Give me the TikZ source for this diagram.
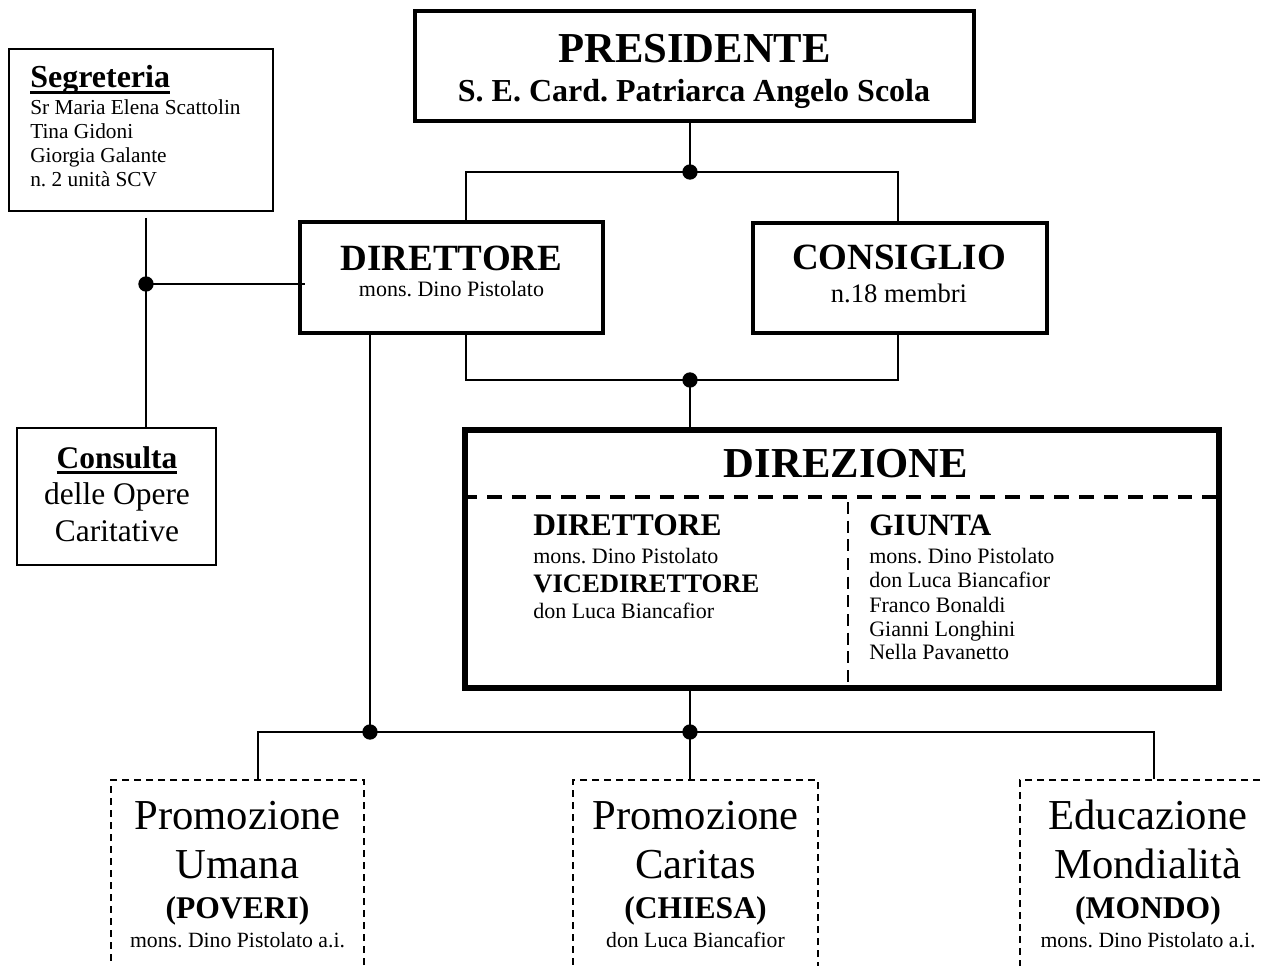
\documentclass[tikz,border=0pt]{standalone}
\usepackage{fontspec}
\setmainfont{Liberation Serif}
\frenchspacing
\newcommand\myul[1]{\setbox0\hbox{#1}\rlap{\rule[-4.2pt]{\wd0}{1.6pt}}\box0}
\newcommand\fs[2]{\fontsize{#1}{#2}\selectfont}
\begin{document}
\begin{tikzpicture}[x=0.75pt,y=-0.75pt,
  box/.style={draw, rectangle, inner sep=0pt},
  thinbox/.style={box, line width=1.5pt},
  thickbox/.style={box, line width=3pt},
  heavybox/.style={box, line width=3.8pt},
  dashbox/.style={box, line width=1.1pt, dash pattern=on 5.25pt off 3.75pt},
  conn/.style={line width=1.5pt},
  vconn/.style={line width=1.9pt},
  txt/.style={inner sep=0pt, anchor=base, font=\frenchspacing},
  txtl/.style={inner sep=0pt, anchor=base west, font=\frenchspacing},
  jdot/.style={circle, fill=black, draw=none, inner sep=0pt, minimum size=11.5pt},
  hdash/.style={line width=3pt, dash pattern=on 11pt off 7.5pt},
  vdash/.style={line width=2pt, dash pattern=on 9pt off 5pt}]
\clip (0,0) rectangle (1261,966);
\fill[white] (0,0) rectangle (1261,966);

% boxes
\node[thinbox, minimum width=198pt, minimum height=121.5pt] (seg) at (141,130) {};
\node[thinbox, minimum width=149.25pt, minimum height=102.75pt] (cons) at (116.5,496.5) {};
\node[thickbox, minimum width=419.25pt, minimum height=82.5pt] (pres) at (694.5,66) {};
\node[thickbox, minimum width=227.25pt, minimum height=83.25pt] (dir) at (451.5,277.5) {};
\node[thickbox, minimum width=220.5pt, minimum height=82.5pt] (consig) at (900,278) {};
\node[heavybox, minimum width=565.5pt, minimum height=193.5pt] (direz) at (842,559) {};
\node[dashbox, minimum width=189.75pt, minimum height=165pt] (b1) at (237.5,890) {};
\node[dashbox, minimum width=183.75pt, minimum height=165pt] (b2) at (695.5,890) {};
\node[dashbox, minimum width=192pt, minimum height=165pt] (b3) at (1148,890) {};

% inner dashed dividers of DIREZIONE
\draw[hdash] (direz.west |- 0,497) -- (direz.east |- 0,497);
\draw[vdash] (848,502) -- (848,682);

% junction coordinates and dots
\coordinate (j1) at (466,172);
\coordinate (j2) at (898,172);
\coordinate (j3) at (466,380);
\coordinate (j4) at (898,380);
\coordinate (sTop) at (146,218);
\coordinate (h1) at (258,732);
\coordinate (h2) at (1154,732);
\node[jdot] (d1) at (690,172) {};
\node[jdot] (d2) at (690,380) {};
\node[jdot] (d3) at (146,284) {};
\node[jdot] (d4) at (370,732) {};
\node[jdot] (d5) at (690,732) {};

% connectors
\draw[vconn] (pres.south -| d1) -- (d1.center);
\draw[conn] (dir.north -| j1) -- (j1) -- (j2) -- (consig.north -| j2);
\draw[conn] (dir.south -| j3) -- (j3) -- (j4) -- (consig.south -| j4);
\draw[vconn] (d2.center) -- (direz.north -| d2);
\draw[conn] (sTop) -- (cons.north -| sTop);
\draw[conn] (d3.center) -- ([xshift=5pt]dir.west |- d3);
\draw[conn] (dir.south -| d4) -- (d4.center);
\draw[vconn] (direz.south -| d5) -- (d5.center) -- (b2.north -| d5);
\draw[conn] (b1.north -| h1) -- (h1) -- (h2) -- (b3.north -| h2);

% Segreteria
\node[txtl] (t1) at (30,88) {\fs{24pt}{28pt}\bfseries\myul{Segreteria}};
\node[txtl] (t2) at (30,115) {\fs{16pt}{18pt}Sr Maria Elena Scattolin};
\node[txtl] (t3) at (30,139) {\fs{16pt}{18pt}Tina Gidoni};
\node[txtl] (t4) at (30,163) {\fs{16pt}{18pt}Giorgia Galante};
\node[txtl] (t5) at (30,187) {\fs{16pt}{18pt}n. 2 unità SCV};

% Consulta
\node[txt] (t6) at (117,468) {\fs{23.6pt}{28pt}\bfseries\myul{Consulta}};
\node[txt] (t7) at (117,504) {\fs{23.6pt}{28pt}delle Opere};
\node[txt] (t8) at (117,541) {\fs{23.6pt}{28pt}Caritative};

% Presidente
\node[txt] (t9) at (694.5,63) {\fs{32pt}{36pt}\bfseries PRESIDENTE};
\node[txt] (t10) at (694,102) {\fs{24pt}{28pt}\bfseries S. E. Card. Patriarca Angelo Scola};

% Direttore
\node[txt] (t11) at (451.5,271) {\fs{27.75pt}{32pt}\bfseries DIRETTORE};
\node[txt] (t12) at (451.5,297) {\fs{16.5pt}{18pt}mons. Dino Pistolato};

% Consiglio
\node[txt] (t13) at (899,270) {\fs{27.75pt}{32pt}\bfseries CONSIGLIO};
\node[txt] (t14) at (899,303) {\fs{20pt}{24pt}n.18 membri};

% Direzione
\node[txt] (t15) at (846,477) {\fs{32pt}{36pt}\bfseries DIREZIONE};
\node[txtl] (t16) at (533,535) {\fs{23.6pt}{28pt}\bfseries DIRETTORE};
\node[txtl] (t17) at (533,563) {\fs{16.5pt}{18pt}mons. Dino Pistolato};
\node[txtl] (t18) at (533,592) {\fs{20pt}{24pt}\bfseries VICEDIRETTORE};
\node[txtl] (t19) at (533,618) {\fs{16.5pt}{18pt}don Luca Biancafior};
\node[txtl] (t20) at (869,535) {\fs{23.3pt}{28pt}\bfseries GIUNTA};
\node[txtl] (t21) at (869,563) {\fs{16.5pt}{18pt}mons. Dino Pistolato};
\node[txtl] (t22) at (869,587) {\fs{16.5pt}{18pt}don Luca Biancafior};
\node[txtl] (t23) at (869,612) {\fs{16.5pt}{18pt}Franco Bonaldi};
\node[txtl] (t24) at (869,636) {\fs{16.5pt}{18pt}Gianni Longhini};
\node[txtl] (t25) at (869,659) {\fs{16.5pt}{18pt}Nella Pavanetto};

% Bottom boxes
\node[txt] (t26) at (237.5,829) {\fs{32pt}{36pt}Promozione};
\node[txt] (t27) at (237.5,878) {\fs{32pt}{36pt}Umana};
\node[txt] (t28) at (237.5,918) {\fs{23.7pt}{28pt}\bfseries (POVERI)};
\node[txt] (t29) at (237.5,947) {\fs{16.3pt}{18pt}mons. Dino Pistolato a.i.};

\node[txt] (t30) at (695.5,829) {\fs{32pt}{36pt}Promozione};
\node[txt] (t31) at (695.5,878) {\fs{32pt}{36pt}Caritas};
\node[txt] (t32) at (695.5,918) {\fs{23.7pt}{28pt}\bfseries (CHIESA)};
\node[txt] (t33) at (695.5,947) {\fs{16.3pt}{18pt}don Luca Biancafior};

\node[txt] (t34) at (1148,829) {\fs{32pt}{36pt}Educazione};
\node[txt] (t35) at (1148,878) {\fs{32pt}{36pt}Mondialità};
\node[txt] (t36) at (1148,918) {\fs{23.7pt}{28pt}\bfseries (MONDO)};
\node[txt] (t37) at (1148,947) {\fs{16.3pt}{18pt}mons. Dino Pistolato a.i.};
\end{tikzpicture}
\end{document}
